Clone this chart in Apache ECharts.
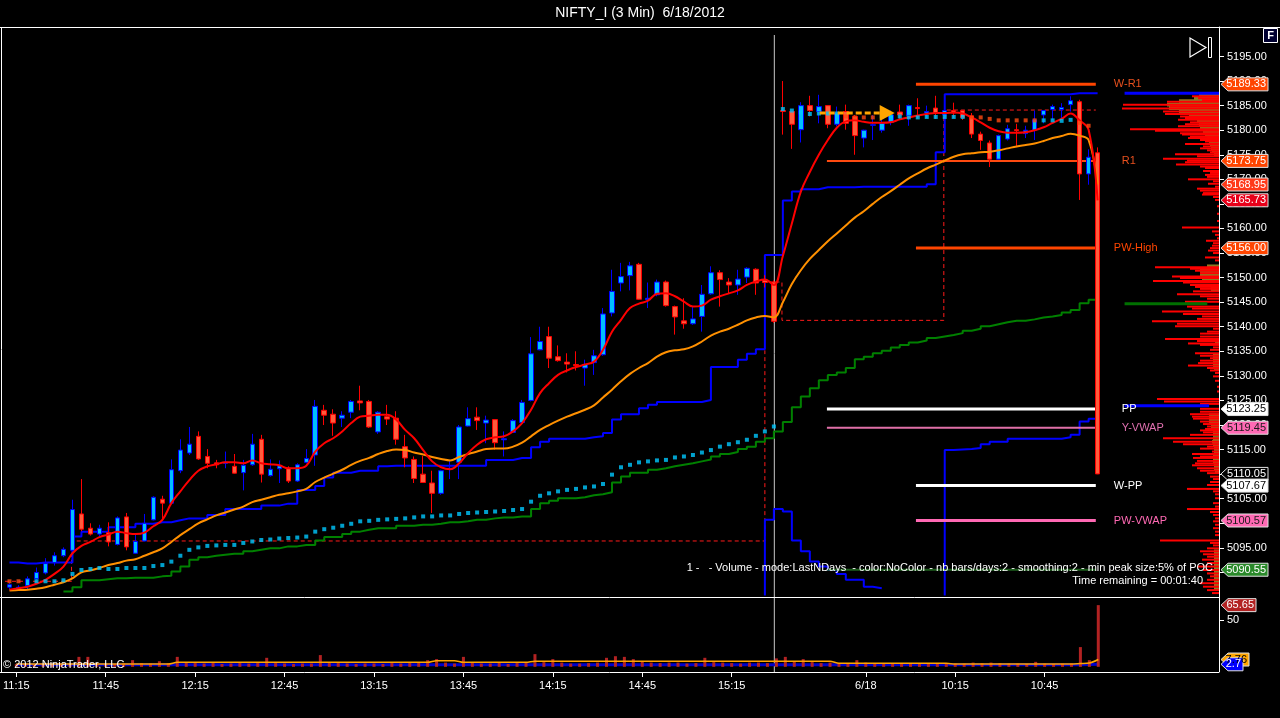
<!DOCTYPE html>
<html>
<head>
<meta charset="utf-8">
<title>NIFTY_I (3 Min) 6/18/2012</title>
<script src="https://cdn.jsdelivr.net/npm/echarts@6/dist/echarts.min.js"></script>
<style>
  html, body { margin: 0; padding: 0; background: #000; }
  #chart { width: 1280px; height: 718px; }
</style>
</head>
<body>
<div id="chart"></div>
<script>
// ---- time axis ----
const sessions = [{ start: '11:15', bars: 86 }, { start: '9:18', bars: 49 }];
const lastBar = 121;
const timeTicks = ['11:15', '11:45', '12:15', '12:45', '13:15', '13:45', '14:15', '14:45', '15:15', '9:45', '10:15', '10:45'];
const dateLabels = { '9:45': '6/18' };
const priceTicks = [5090, 5095, 5100, 5105, 5110, 5115, 5120, 5125, 5130, 5135, 5140, 5145,
  5150, 5155, 5160, 5165, 5170, 5175, 5180, 5185, 5190, 5195];
const volTicks = [50];

// ---- price bars ----
const opens = [
  5087.0, 5086.6, 5087.3, 5088.7, 5089.9, 5092.0, 5093.4, 5094.5, 5101.9, 5099.0,
  5097.8, 5098.1, 5095.7, 5101.3, 5093.9, 5096.4, 5100.7, 5104.9, 5104.1, 5110.7,
  5114.3, 5117.7, 5113.6, 5112.3, 5112.2, 5111.6, 5110.3, 5111.9, 5117.1, 5109.7,
  5111.1, 5111.2, 5108.6, 5112.4, 5113.9, 5123.0, 5122.2, 5121.4, 5122.6, 5124.9,
  5124.8, 5118.6, 5121.7, 5121.4, 5115.6, 5113.0, 5110.0, 5108.2, 5106.1, 5111.0,
  5112.4, 5119.8, 5121.6, 5120.4, 5121.1, 5117.0, 5118.5, 5120.5, 5125.0, 5135.3,
  5138.0, 5133.9, 5132.8, 5132.3, 5131.6, 5132.7, 5134.3, 5142.8, 5148.9, 5150.4,
  5152.7, 5145.5, 5146.5, 5149.1, 5144.1, 5141.2, 5140.6, 5142.1, 5146.7, 5151.0,
  5149.1, 5148.5, 5150.1, 5151.7, 5149.5, 5149.1, 5184.0, 5183.8, 5180.1, 5185.0,
  5183.8, 5185.0, 5181.2, 5183.8, 5182.8, 5178.4, 5181.0, 5180.0, 5181.6, 5183.7,
  5183.0, 5184.6, 5183.5, 5184.5, 5183.1, 5184.0, 5184.0, 5182.9, 5179.2, 5177.4,
  5174.1, 5178.2, 5180.1, 5179.3, 5180.0, 5183.1, 5184.2, 5184.2, 5185.2, 5185.8,
  5171.1, 5175.4
];
const closes = [
  5087.5, 5087.0, 5088.7, 5090.0, 5091.8, 5093.4, 5094.7, 5102.8, 5098.8, 5097.8,
  5099.0, 5096.2, 5101.1, 5095.2, 5096.3, 5100.0, 5105.3, 5104.1, 5110.9, 5114.9,
  5116.1, 5113.1, 5112.2, 5111.9, 5112.4, 5110.2, 5111.8, 5116.1, 5110.0, 5111.0,
  5111.7, 5108.6, 5111.9, 5113.2, 5123.8, 5122.0, 5120.4, 5122.0, 5124.8, 5124.5,
  5119.6, 5122.6, 5121.2, 5117.1, 5113.3, 5109.1, 5108.3, 5106.1, 5110.7, 5111.2,
  5119.6, 5121.3, 5120.9, 5121.0, 5116.4, 5117.2, 5120.9, 5124.6, 5134.5, 5137.0,
  5133.6, 5133.1, 5132.4, 5132.1, 5132.3, 5134.1, 5142.6, 5147.2, 5150.2, 5152.4,
  5145.6, 5145.8, 5149.1, 5144.3, 5142.0, 5140.6, 5141.6, 5146.6, 5151.0, 5149.6,
  5148.5, 5149.7, 5151.9, 5148.9, 5149.0, 5141.1, 5183.8, 5181.2, 5185.0, 5184.0,
  5184.8, 5181.2, 5183.5, 5181.4, 5178.9, 5180.0, 5181.1, 5181.4, 5183.1, 5183.1,
  5185.0, 5184.4, 5183.8, 5183.5, 5184.0, 5183.5, 5182.6, 5179.2, 5177.9, 5174.1,
  5178.9, 5180.3, 5179.9, 5180.0, 5182.1, 5184.0, 5184.8, 5184.6, 5186.0, 5171.1,
  5174.5, 5110.05
];
const lows = [
  5086.5, 5086.3, 5086.4, 5088.4, 5089.6, 5091.4, 5093.1, 5094.1, 5098.4, 5097.5,
  5097.3, 5095.3, 5095.5, 5094.5, 5093.8, 5096.3, 5100.6, 5100.8, 5104.0, 5110.2,
  5113.9, 5112.9, 5111.2, 5111.2, 5111.2, 5110.1, 5106.7, 5111.7, 5108.3, 5109.5,
  5108.2, 5108.2, 5108.4, 5112.2, 5111.7, 5120.0, 5117.8, 5119.6, 5121.4, 5123.0,
  5119.4, 5118.2, 5120.0, 5116.0, 5111.4, 5108.2, 5108.2, 5102.1, 5105.8, 5109.0,
  5109.0, 5119.7, 5119.0, 5116.3, 5115.0, 5113.6, 5118.4, 5120.4, 5124.8, 5135.2,
  5131.6, 5132.9, 5130.7, 5131.1, 5128.0, 5130.2, 5134.1, 5142.1, 5147.2, 5147.4,
  5145.5, 5143.8, 5146.2, 5144.1, 5138.4, 5139.6, 5140.4, 5139.0, 5146.5, 5144.1,
  5146.8, 5146.5, 5148.9, 5146.5, 5148.0, 5140.8, 5179.1, 5176.2, 5177.5, 5182.8,
  5181.4, 5180.4, 5180.8, 5180.1, 5175.0, 5176.5, 5178.0, 5179.5, 5181.0, 5182.1,
  5180.9, 5182.4, 5182.5, 5182.3, 5182.5, 5182.5, 5182.1, 5178.4, 5176.0, 5172.5,
  5174.0, 5177.9, 5176.8, 5178.4, 5178.0, 5181.4, 5182.1, 5182.1, 5183.8, 5165.8,
  5168.9, 5110.0
];
const highs = [
  5088.0, 5087.4, 5089.2, 5091.0, 5092.9, 5094.1, 5095.1, 5104.8, 5109.0, 5100.0,
  5099.7, 5100.2, 5101.4, 5102.1, 5097.7, 5101.9, 5105.5, 5105.6, 5113.0, 5117.1,
  5119.6, 5118.7, 5115.1, 5112.9, 5114.6, 5114.1, 5112.9, 5118.2, 5118.0, 5113.0,
  5112.8, 5111.6, 5112.2, 5115.1, 5125.1, 5124.1, 5123.2, 5122.8, 5125.1, 5128.0,
  5125.1, 5122.8, 5124.1, 5122.8, 5118.0, 5113.6, 5113.7, 5110.7, 5110.9, 5112.9,
  5120.0, 5123.6, 5123.6, 5121.9, 5121.2, 5118.7, 5121.2, 5125.1, 5137.9, 5140.0,
  5140.0, 5136.2, 5134.6, 5135.0, 5133.3, 5135.3, 5143.8, 5151.6, 5153.0, 5153.2,
  5153.0, 5149.0, 5149.6, 5149.4, 5144.3, 5145.8, 5144.0, 5148.5, 5152.3, 5151.5,
  5149.9, 5151.6, 5152.1, 5151.9, 5150.5, 5149.4, 5190.0, 5183.8, 5185.7, 5187.0,
  5187.2, 5185.0, 5184.8, 5185.2, 5183.1, 5180.1, 5183.1, 5183.1, 5184.0, 5185.2,
  5185.2, 5186.5, 5185.0, 5187.0, 5184.5, 5185.6, 5184.1, 5183.5, 5179.7, 5177.9,
  5179.1, 5181.1, 5181.3, 5180.9, 5184.0, 5184.1, 5185.2, 5185.5, 5186.9, 5186.2,
  5176.1, 5176.5
];

// ---- indicators ----
const fastAvg = [
  5086.5, 5086.8, 5087.1, 5087.7, 5088.5, 5089.7, 5091.2, 5093.9, 5095.4, 5096.2,
  5097.2, 5097.7, 5098.3, 5098.0, 5097.8, 5098.1, 5099.4, 5100.7, 5104.1, 5106.5,
  5108.8, 5110.7, 5111.6, 5112.0, 5112.4, 5112.4, 5112.2, 5112.8, 5112.2, 5112.0,
  5111.8, 5111.2, 5111.2, 5111.7, 5114.6, 5116.3, 5117.3, 5118.7, 5120.4, 5121.7,
  5121.9, 5122.1, 5122.1, 5121.1, 5119.0, 5117.3, 5114.9, 5112.6, 5111.4, 5111.0,
  5112.2, 5114.3, 5116.0, 5117.1, 5117.5, 5117.7, 5118.7, 5120.4, 5123.1, 5126.5,
  5128.5, 5130.2, 5131.1, 5131.8, 5132.3, 5132.9, 5135.3, 5139.0, 5141.4, 5143.8,
  5144.7, 5145.3, 5146.7, 5146.8, 5146.2, 5145.1, 5144.1, 5144.3, 5145.5, 5146.2,
  5146.8, 5147.4, 5148.5, 5149.2, 5149.6, 5148.5, 5154.4, 5161.0, 5167.5, 5171.5,
  5175.0, 5178.0, 5180.5, 5181.8, 5182.0, 5181.7, 5181.5, 5181.5, 5181.6, 5182.2,
  5182.6, 5183.0, 5183.3, 5183.5, 5183.5, 5183.6, 5183.4, 5182.6, 5181.6, 5180.5,
  5179.8, 5179.5, 5179.5, 5179.6, 5180.0, 5180.6, 5181.5, 5182.3, 5183.4, 5182.0,
  5180.1, 5165.73
];
const slowAvg = [
  5086.3, 5086.4, 5086.5, 5086.7, 5087.0, 5087.5, 5088.0, 5088.8, 5090.0, 5090.4,
  5090.9, 5091.5, 5091.9, 5092.4, 5092.7, 5093.4, 5094.1, 5094.9, 5096.2, 5097.6,
  5098.8, 5100.0, 5100.8, 5101.6, 5102.2, 5102.8, 5103.4, 5104.3, 5104.8, 5105.3,
  5105.8, 5106.1, 5106.5, 5107.0, 5108.4, 5109.3, 5110.1, 5110.9, 5111.9, 5112.7,
  5113.3, 5114.1, 5114.7, 5115.0, 5114.9, 5114.4, 5114.0, 5113.5, 5113.1, 5112.8,
  5113.5, 5114.1, 5114.6, 5115.1, 5115.2, 5115.2, 5115.6, 5116.4, 5117.7, 5119.0,
  5120.0, 5120.9, 5121.7, 5122.4, 5123.1, 5124.0, 5125.6, 5127.2, 5128.9, 5130.4,
  5131.6, 5132.6, 5133.9, 5134.8, 5135.2, 5135.4, 5136.0, 5137.0, 5138.2, 5139.0,
  5139.6, 5140.4, 5141.3, 5141.9, 5142.2, 5141.9, 5145.0, 5148.7, 5151.5, 5153.8,
  5155.6, 5157.4, 5159.0, 5160.6, 5162.2, 5163.5, 5165.0, 5166.4, 5167.6, 5168.9,
  5170.2, 5171.2, 5172.2, 5173.0, 5173.8, 5174.6, 5175.1, 5175.3, 5175.5, 5175.6,
  5175.9, 5176.3, 5176.7, 5177.0, 5177.3, 5177.8, 5178.4, 5178.8, 5179.3, 5178.9,
  5178.0, 5168.95
];
const blueStep = [
  5092.0, 5091.8, 5091.8, 5092.0, 5092.0, 5092.0, 5092.0, 5097.3, 5098.3, 5098.3,
  5098.3, 5099.2, 5099.2, 5099.2, 5099.9, 5099.9, 5100.2, 5100.2, 5100.6, 5101.0,
  5101.0, 5101.0, 5101.7, 5101.7, 5102.9, 5102.9, 5102.9, 5102.9, 5103.6, 5103.6,
  5104.0, 5104.0, 5106.8, 5106.8, 5107.6, 5109.3, 5110.3, 5110.3, 5110.7, 5110.7,
  5110.7, 5111.6, 5111.7, 5111.7, 5111.7, 5111.7, 5111.7, 5111.7, 5111.7, 5111.7,
  5111.7, 5111.7, 5111.7, 5112.9, 5112.9, 5112.9, 5113.3, 5113.3, 5115.5, 5116.6,
  5117.2, 5117.2, 5117.2, 5117.2, 5117.5, 5117.7, 5118.4, 5121.1, 5122.2, 5122.2,
  5123.4, 5124.1, 5124.7, 5124.7, 5124.7, 5124.7, 5124.7, 5125.1, 5131.8, 5131.8,
  5131.8, 5133.3, 5134.5, 5135.4, 5154.6, 5154.6, 5165.7, 5167.5, 5168.0, 5168.0,
  5168.4, 5168.4, 5168.4, 5168.4, 5168.5, 5168.5, 5168.5, 5168.5, 5168.5, 5168.5,
  5168.5, 5168.5, 5169.0, 5175.5, 5187.3, 5187.3, 5187.3, 5187.3, 5187.3, 5187.3,
  5187.3, 5187.3, 5187.3, 5187.3, 5187.3, 5187.3, 5187.3, 5187.3, 5187.5, 5187.5,
  5187.5, 5187.5
];
const greenStep = [
  null, null, null, null, null, null, 5086.1, 5087.0, 5088.4, 5088.4,
  5088.6, 5088.8, 5088.8, 5088.9, 5088.9, 5088.9, 5089.2, 5089.3, 5090.2, 5091.2,
  5092.6, 5093.1, 5093.4, 5093.6, 5093.8, 5093.8, 5094.3, 5094.6, 5094.9, 5094.9,
  5095.3, 5095.3, 5095.6, 5095.6, 5096.5, 5097.2, 5097.2, 5097.8, 5098.3, 5098.7,
  5099.0, 5099.0, 5099.0, 5099.5, 5099.5, 5099.7, 5099.7, 5099.9, 5100.2, 5100.2,
  5100.4, 5100.7, 5100.7, 5101.0, 5101.2, 5101.2, 5101.4, 5101.4, 5102.9, 5104.1,
  5104.6, 5105.1, 5105.1, 5105.3, 5105.7, 5105.9, 5106.3, 5108.3, 5109.5, 5110.3,
  5110.3, 5110.9, 5111.2, 5111.6, 5111.9, 5112.2, 5112.6, 5113.0, 5113.6, 5114.1,
  5114.5, 5115.1, 5115.6, 5116.6, 5117.3, 5118.7, 5120.6, 5123.6, 5125.8, 5127.5,
  5129.1, 5130.2, 5130.7, 5131.6, 5133.4, 5133.9, 5134.6, 5135.1, 5135.8, 5136.3,
  5136.8, 5137.2, 5137.7, 5138.0, 5138.3, 5138.7, 5139.2, 5139.6, 5140.1, 5140.5,
  5140.9, 5141.2, 5141.2, 5141.5, 5141.9, 5142.1, 5142.4, 5142.9, 5143.4, 5144.8,
  5145.5, 5145.5
];
const cyanDots = [
  null, null, null, 5088.2, 5088.2, 5088.2, 5088.4, 5089.7, 5090.5, 5090.7,
  5090.9, 5090.7, 5090.7, 5090.9, 5090.9, 5090.9, 5091.3, 5091.5, 5092.2, 5093.4,
  5094.6, 5095.1, 5095.4, 5095.5, 5095.6, 5095.6, 5096.0, 5096.3, 5096.6, 5096.7,
  5096.9, 5097.0, 5097.1, 5097.3, 5098.3, 5098.8, 5099.1, 5099.5, 5099.9, 5100.4,
  5100.5, 5100.7, 5100.8, 5100.9, 5101.0, 5101.2, 5101.4, 5101.4, 5101.6, 5101.6,
  5101.9, 5102.1, 5102.2, 5102.3, 5102.4, 5102.5, 5102.7, 5102.9, 5104.4, 5105.6,
  5106.1, 5106.5, 5106.8, 5107.0, 5107.3, 5107.5, 5108.0, 5109.9, 5111.4, 5111.9,
  5112.4, 5112.6, 5112.8, 5112.9, 5113.4, 5113.6, 5113.9, 5114.4, 5114.9, 5115.6,
  5116.1, 5116.5, 5117.0, 5117.8, 5118.7, 5119.7, 5184.3, 5184.0, 5183.6, 5183.3,
  5183.4, 5183.4, 5183.4, null, null, null, null, 5182.8, 5182.8, 5182.8,
  5182.6, 5182.6, 5182.7, 5182.7, 5182.7, 5182.7, 5182.7, null, null, null,
  null, null, null, null, null, 5182.0, 5182.0, 5181.9, 5182.1, null,
  null, null
];
const orangeDots = [
  [0, 5088.2], [1, 5088.2], [93, 5182.8], [94, 5182.6], [95, 5182.6], [96, 5182.6],
  [107, 5182.6], [108, 5182.6], [109, 5182.3], [110, 5182.0], [111, 5182.0], [112, 5182.0],
  [113, 5182.0], [114, 5182.0], [119, 5181.5], [120, 5180.9]
];
const blueLowA = [
  [84, 5085.3], [84, 5100.7], [85, 5102.9], [86, 5102.4], [87, 5096.5], [88, 5094.3],
  [89, 5092.2], [90, 5091.2], [91, 5090.5], [92, 5089.7], [93, 5088.5], [95, 5087.1],
  [96, 5086.8], [97, 5086.8]
];
const blueLowB = [
  [104, 5085.3], [104, 5114.9], [105, 5115.1], [107, 5115.3], [108, 5116.1], [109, 5116.6],
  [111, 5117.2], [117, 5117.5], [118, 5118.0], [119, 5120.7], [120, 5121.3], [120.8, 5121.3]
];
const rangeLineA = [[-0.5, 5088.2], [6.9, 5088.2], [6.9, 5096.4], [84.0, 5096.4], [84.0, 5135.2]];
const rangeLineB = [[84.4, 5149.1], [85.9, 5149.1], [85.9, 5141.3], [103.9, 5141.3], [103.9, 5184.1], [120.8, 5184.1]];
const arrowLine = [[90.1, 5183.5], [97.6, 5183.5]];
const sessionBreak = 85.05;

// ---- pivot levels ----
const levelNames = ['W-R1', 'R1', 'PW-High', 'PP', 'Y-VWAP', 'W-PP', 'PW-VWAP'];
const levelValues = [5189.33, 5173.75, 5156.00, 5123.25, 5119.45, 5107.67, 5100.57];
const levelFrom = [100.8, 90.9, 100.8, 90.9, 90.9, 100.8, 100.8];
const levelTo = [120.8, 120.8, 120.8, 120.8, 120.8, 120.8, 120.8];
const volAreaLine = [[90.9, 5090.55], [120.8, 5090.55]];

// ---- volume profile ----
const profPrice = [
  5186.9, 5186.5, 5186.1, 5185.8, 5185.2, 5184.8, 5184.4, 5183.8, 5183.3, 5182.8,
  5182.5, 5182.1, 5181.6, 5181.2, 5180.8, 5180.2, 5179.9, 5179.4, 5179.1, 5178.7,
  5178.4, 5178.0, 5177.7, 5177.2, 5176.7, 5176.3, 5175.9, 5175.5, 5175.1, 5174.7,
  5174.2, 5173.8, 5173.5, 5173.0, 5172.6, 5172.3, 5171.7, 5171.3, 5170.9, 5170.5,
  5170.0, 5169.6, 5169.1, 5168.5, 5168.1, 5167.7, 5167.2, 5166.9, 5166.4, 5165.8,
  5164.5, 5163.0, 5161.5, 5160.2, 5159.4, 5158.7, 5158.0, 5157.5, 5157.0, 5156.5,
  5156.0, 5155.5, 5155.0, 5154.1, 5153.5, 5152.1, 5151.8, 5151.4, 5150.9, 5150.2,
  5149.9, 5149.3, 5149.0, 5148.5, 5148.1, 5147.7, 5147.2, 5146.6, 5146.2, 5145.7,
  5145.1, 5144.1, 5143.7, 5143.1, 5142.6, 5142.1, 5141.6, 5141.1, 5140.6, 5140.1,
  5139.6, 5139.0, 5138.6, 5138.0, 5137.5, 5137.1, 5136.6, 5136.3, 5135.8, 5135.3,
  5134.6, 5134.1, 5133.6, 5133.1, 5132.6, 5132.1, 5131.6, 5131.1, 5130.6, 5129.9,
  5129.0, 5127.8, 5126.8, 5125.3, 5124.8, 5124.3, 5123.3, 5122.7, 5122.2, 5121.7,
  5121.3, 5120.7, 5120.2, 5119.7, 5119.2, 5118.9, 5118.5, 5118.0, 5117.3, 5116.6,
  5116.1, 5115.6, 5115.2, 5114.6, 5114.1, 5113.6, 5113.3, 5112.7, 5112.2, 5111.8,
  5111.2, 5110.7, 5110.2, 5109.5, 5109.0, 5108.4, 5107.8, 5107.0, 5106.5, 5105.9,
  5105.1, 5104.1, 5103.4, 5102.9, 5102.3, 5101.7, 5101.0, 5100.4, 5099.7, 5099.0,
  5098.3, 5097.6, 5096.5, 5096.0, 5095.5, 5094.9, 5094.3, 5093.7, 5093.2, 5092.6,
  5091.9, 5091.2, 5090.5, 5089.8, 5089.2, 5088.5, 5087.8, 5087.1, 5086.4, 5085.8
];
const profVol = [
  27, 21, 17, 52, 96, 49, 97, 56, 54, 39,
  34, 41, 29, 34, 41, 89, 64, 39, 37, 29,
  31, 19, 14, 34, 16, 19, 12, 9, 44, 22,
  56, 32, 34, 43, 19, 14, 16, 9, 14, 12,
  31, 6, 11, 4, 22, 19, 16, 17, 6, 4,
  2, 2, 2, 37, 7, 4, 2, 13, 6, 7,
  9, 11, 6, 14, 4, 64, 29, 24, 19, 47,
  39, 66, 36, 29, 24, 19, 26, 42, 19, 12,
  34, 32, 27, 57, 36, 17, 22, 67, 42, 44,
  6, 12, 19, 19, 54, 22, 31, 19, 6, 9,
  24, 19, 9, 19, 21, 31, 12, 9, 4, 6,
  4, 2, 2, 62, 55, 19, 19, 19, 29, 27,
  26, 19, 16, 12, 14, 19, 16, 29, 56, 46,
  36, 12, 19, 7, 27, 19, 26, 22, 24, 27,
  22, 19, 12, 9, 6, 9, 12, 32, 6, 4,
  4, 6, 4, 32, 9, 6, 4, 6, 4, 6,
  4, 4, 59, 9, 6, 12, 19, 16, 12, 17,
  12, 21, 16, 12, 9, 12, 19, 16, 12, 7
];
const valueAreaPrice = [
  5187.2, 5186.5, 5185.9, 5185.2, 5184.5, 5183.8, 5183.1, 5182.5, 5181.8, 5181.1,
  5180.4, 5179.7, 5179.1, 5178.4, 5177.7, 5177.0, 5176.3, 5175.7, 5175.0,
  5152.3, 5151.6, 5150.9, 5150.2, 5149.5, 5148.2, 5147.5, 5137.3, 5136.8,
  5134.3, 5133.6, 5132.9, 5132.2, 5131.6, 5122.0, 5121.3, 5120.6, 5119.9, 5119.3,
  5118.7, 5118.0, 5117.3, 5116.6, 5115.9, 5115.2, 5114.5, 5113.8, 5113.1, 5112.4,
  5111.8, 5111.1, 5110.4, 5094.3, 5093.6, 5092.9, 5092.2, 5091.5, 5090.8, 5090.1,
  5089.4, 5088.7, 5088.0, 5087.3, 5086.6
];
const valueAreaVol = [
  20, 25, 40, 52, 50, 40, 30, 22, 22, 20,
  19, 16, 14, 12, 10, 9, 8, 7, 5,
  12, 19, 19, 19, 17, 8, 8, 4, 4,
  6, 6, 6, 6, 5, 10, 10, 10, 8, 8,
  6, 6, 6, 7, 6, 5, 5, 6, 6, 6,
  5, 5, 4, 5, 5, 5, 5, 5, 5, 5,
  5, 5, 5, 5, 5
];
const pocHigh = [[124.0, 5187.5], [134.5, 5187.5]];
const pocLow = [[124.0, 5123.9], [133.4, 5123.9]];
const pocMid = [[124.0, 5144.7], [133.2, 5144.7]];

// ---- volume panel ----
const volume = [
  3.0, 3.5, 3.0, 3.5, 3.0, 3.0, 4.0, 10.6, 10.6, 4.0,
  3.5, 3.0, 4.0, 7.1, 4.0, 3.5, 6.0, 4.0, 10.6, 4.5,
  4.0, 3.5, 4.0, 3.0, 3.5, 4.0, 3.5, 4.0, 9.6, 4.0,
  3.5, 3.0, 3.5, 3.5, 12.5, 4.0, 4.0, 3.5, 3.0, 3.5,
  3.5, 3.0, 4.0, 3.5, 4.0, 4.5, 7.1, 8.2, 4.5, 3.5,
  10.6, 4.5, 3.5, 3.5, 4.5, 3.0, 4.0, 4.5, 13.5, 5.0,
  8.2, 4.5, 3.5, 3.5, 4.0, 4.5, 9.6, 11.3, 10.6, 8.2,
  5.5, 4.5, 4.0, 4.5, 4.5, 3.5, 4.0, 9.6, 5.0, 4.5,
  4.0, 3.5, 4.5, 4.5, 4.0, 9.0, 10.6, 5.5, 8.2, 5.0,
  4.0, 4.5, 4.0, 3.5, 7.1, 4.5, 4.0, 3.5, 3.5, 4.0,
  3.5, 4.0, 3.5, 3.5, 4.0, 3.5, 3.5, 4.5, 4.0, 4.5,
  4.0, 3.5, 3.5, 3.0, 5.3, 3.5, 3.0, 3.5, 3.5, 21.0,
  7.1, 65.65
];
const volAvg = [
  3.0, 3.0, 3.0, 3.0, 3.0, 3.0, 3.0, 3.0, 3.0, 3.0,
  3.0, 3.0, 3.0, 3.0, 3.0, 3.0, 3.0, 3.0, 4.8, 4.8,
  4.8, 4.8, 4.8, 4.8, 4.8, 4.8, 4.8, 4.8, 4.8, 4.8,
  4.8, 4.8, 4.8, 4.8, 4.8, 4.8, 4.8, 4.8, 4.8, 4.8,
  4.8, 4.8, 4.8, 4.8, 4.8, 4.8, 4.8, 6.6, 6.6, 6.6,
  4.8, 4.8, 4.8, 4.8, 4.8, 4.8, 4.8, 4.8, 5.9, 5.9,
  5.9, 5.9, 5.9, 5.9, 5.9, 5.9, 5.9, 5.9, 5.9, 5.9,
  5.9, 5.9, 5.9, 5.9, 5.9, 5.9, 5.9, 5.9, 5.9, 5.9,
  5.9, 5.9, 5.9, 5.9, 5.9, 5.9, 5.9, 5.9, 5.9, 5.9,
  5.9, 5.9, 3.9, 3.9, 3.9, 3.9, 3.9, 3.9, 3.9, 3.9,
  3.9, 3.9, 3.9, 3.9, 3.9, 2.9, 2.9, 2.9, 2.9, 2.9,
  2.9, 2.9, 2.9, 2.9, 2.9, 2.9, 2.9, 2.9, 2.9, 3.5,
  4.0, 7.76
];
const volBase = [
  2.3, 2.3, 2.3, 2.3, 2.3, 2.3, 2.3, 2.3, 2.3, 2.3,
  2.3, 2.3, 2.3, 2.3, 2.3, 2.3, 2.3, 2.3, 2.3, 2.3,
  2.3, 2.3, 2.3, 2.3, 2.3, 2.3, 2.3, 2.3, 2.3, 2.3,
  2.3, 2.3, 2.3, 2.3, 2.3, 2.3, 2.3, 2.3, 2.3, 2.3,
  2.3, 2.3, 2.3, 2.3, 2.3, 2.3, 2.3, 2.3, 2.3, 2.3,
  2.3, 2.3, 2.3, 2.3, 2.3, 2.3, 2.3, 2.3, 2.3, 2.3,
  2.3, 2.3, 2.3, 2.3, 2.3, 2.3, 2.3, 2.3, 2.3, 2.3,
  2.3, 2.3, 2.3, 2.3, 2.3, 2.3, 2.3, 2.3, 2.3, 2.3,
  2.3, 2.3, 2.3, 2.3, 2.3, 2.3, 2.1, 2.1, 2.1, 2.1,
  2.1, 2.1, 2.1, 2.1, 2.1, 2.1, 2.1, 2.1, 2.1, 2.1,
  2.1, 2.1, 2.1, 2.1, 2.1, 2.1, 2.1, 2.1, 2.1, 2.1,
  2.1, 2.1, 2.1, 2.1, 2.1, 2.1, 2.1, 2.1, 2.1, 2.3,
  2.5, 2.7
];

// ---- right-hand price flags ----
const priceFlagValues = [5189.33, 5173.75, 5168.95, 5165.73, 5156.00, 5123.25, 5119.45, 5110.05, 5107.67, 5100.57, 5090.55];
const volFlagValues = [65.65, 7.76, 2.7];

function buildTimes(list) {
  const out = [];
  list.forEach(function (s) {
    const hm = s.start.split(':').map(Number);
    for (let k = 0; k < s.bars; k++) {
      const t = hm[0] * 60 + hm[1] + k * 3;
      out.push(Math.floor(t / 60) + ':' + String(t % 60).padStart(2, '0'));
    }
  });
  return out;
}
const categories = buildTimes(sessions);
const N = categories.length;

const FONT = '"Liberation Sans", Arial, sans-serif';
const showTick = function (index, value) {
  return index <= lastBar && timeTicks.indexOf(value) >= 0;
};

const chart = echarts.init(document.getElementById('chart'));

function pairLine(data, color, width, extra) {
  return Object.assign({
    type: 'line', xAxisIndex: 1, yAxisIndex: 0, data: data, symbol: 'none',
    lineStyle: { color: color, width: width }, silent: true
  }, extra || {});
}

const levelStyle = {
  'W-R1': { color: '#ff4500', width: 3, label: '#e8501e', dist: 18 },
  'R1': { color: '#ff4a10', width: 2, label: '#e8501e', dist: 26 },
  'PW-High': { color: '#ff4500', width: 3, label: '#ff4500', dist: 18 },
  'PP': { color: '#ffffff', width: 3, label: '#ffffff', dist: 26 },
  'Y-VWAP': { color: '#e070a8', width: 2, label: '#e070b0', dist: 26 },
  'W-PP': { color: '#ffffff', width: 3, label: '#ffffff', dist: 18 },
  'PW-VWAP': { color: '#ff69b4', width: 3, label: '#ff69b4', dist: 18 }
};

function profileRect(h, color) {
  return function (params, api) {
    const a = api.coord([api.value(0), api.value(1)]);
    const b = api.coord([0, api.value(1)]);
    const hh = typeof h === 'number' ? h : api.size([0, h.pts])[1];
    return {
      type: 'rect',
      shape: { x: a[0], y: a[1] - hh / 2, width: b[0] - a[0], height: hh },
      style: { fill: color }
    };
  };
}

const series = [];

// profile (drawn first, under everything)
series.push({
  type: 'custom', xAxisIndex: 3, yAxisIndex: 2, z: 1, silent: true,
  data: valueAreaPrice.map(function (p, k) { return [valueAreaVol[k], p]; }),
  renderItem: profileRect({ pts: 0.75 }, '#8c7a22')
});
series.push({
  type: 'custom', xAxisIndex: 3, yAxisIndex: 2, z: 1, silent: true,
  data: profPrice.map(function (p, k) { return [profVol[k], p]; }),
  renderItem: profileRect(2, '#ff0000')
});

// range lines
series.push(pairLine(rangeLineA, '#ff1a1a', 1, { lineStyle: { color: '#ff1a1a', width: 1, type: [4, 3] } }));
series.push(pairLine(rangeLineB, '#ff1a1a', 1, { lineStyle: { color: '#ff1a1a', width: 1, type: [4, 3] } }));

// step bands
series.push({
  type: 'line', xAxisIndex: 0, yAxisIndex: 0, data: blueStep, step: 'end', symbol: 'none',
  lineStyle: { color: '#0000ff', width: 2 }, silent: true, z: 3
});
series.push(pairLine(blueLowA, '#0000ff', 2, { step: 'end', z: 3 }));
series.push(pairLine(blueLowB, '#0000ff', 2, { step: 'end', z: 3 }));
series.push({
  type: 'line', xAxisIndex: 0, yAxisIndex: 0, data: greenStep, step: 'end', symbol: 'none',
  lineStyle: { color: '#008000', width: 2 }, silent: true, z: 3
});
series.push(pairLine(volAreaLine, '#1d5e1d', 2, { z: 3 }));

// POC lines on the profile
series.push(pairLine(pocHigh, '#0000ff', 3, { z: 4 }));
series.push(pairLine(pocLow, '#0000ff', 3, { z: 4 }));
series.push(pairLine(pocMid, '#007000', 3, { z: 4 }));

// pivot levels
levelNames.forEach(function (name, k) {
  const st = levelStyle[name];
  series.push(pairLine([[levelFrom[k], levelValues[k]], [levelTo[k], levelValues[k]]], st.color, st.width, {
    name: name, z: 4,
    endLabel: {
      show: true, formatter: name, color: st.label, fontSize: 11, fontFamily: FONT,
      distance: st.dist
    }
  }));
});

// candles
series.push({
  type: 'candlestick', xAxisIndex: 0, yAxisIndex: 0, barWidth: 5, z: 5, silent: true,
  data: opens.map(function (o, k) { return [o, closes[k], lows[k], highs[k]]; }),
  itemStyle: {
    color: '#00bfff', color0: '#ff5c3c',
    borderColor: '#0000ff', borderColor0: '#ff0000', borderWidth: 1
  }
});

// moving averages
series.push({
  type: 'line', xAxisIndex: 0, yAxisIndex: 0, data: slowAvg, smooth: 0.4, symbol: 'none',
  lineStyle: { color: '#ff9000', width: 2 }, silent: true, z: 6
});
series.push({
  type: 'line', xAxisIndex: 0, yAxisIndex: 0, data: fastAvg, smooth: 0.4, symbol: 'none',
  lineStyle: { color: '#ff0000', width: 2 }, silent: true, z: 6
});

// dot plots
series.push({
  type: 'scatter', xAxisIndex: 0, yAxisIndex: 0, data: cyanDots, symbol: 'rect', symbolSize: 4,
  itemStyle: { color: '#00c8ff' }, silent: true, z: 7
});
series.push({
  type: 'scatter', xAxisIndex: 1, yAxisIndex: 0, data: orangeDots, symbol: 'rect', symbolSize: 4,
  itemStyle: { color: '#ff4a10' }, silent: true, z: 7
});

// drawn arrow
series.push(pairLine(arrowLine.map(function (p, k) {
  return k === arrowLine.length - 1
    ? { value: p, symbol: 'triangle', symbolSize: [16, 15], symbolRotate: -90 }
    : { value: p, symbol: 'none' };
}), '#ffa500', 3, {
  showSymbol: true, z: 8,
  lineStyle: { color: '#ffa500', width: 3, type: [6, 3] },
  itemStyle: { color: '#ffa500' }
}));

// volume panel
series.push({
  type: 'line', xAxisIndex: 2, yAxisIndex: 1, data: volBase, symbol: 'none',
  lineStyle: { color: '#0000cd', width: 3 }, silent: true, z: 2
});
series.push({
  type: 'bar', xAxisIndex: 2, yAxisIndex: 1, data: volume, barWidth: 3,
  itemStyle: { color: '#b22222' }, silent: true, z: 3
});
series.push({
  type: 'line', xAxisIndex: 2, yAxisIndex: 1, data: volAvg, smooth: 0.3, symbol: 'none',
  lineStyle: { color: '#ffa500', width: 1.5 }, silent: true, z: 4
});

const option = {
  backgroundColor: '#000000',
  animation: false,
  textStyle: { fontFamily: FONT },
  grid: [
    { left: 5, right: 61, top: 27, height: 570 },
    { left: 5, right: 61, top: 597, height: 75 },
    { left: 1119, right: 61, top: 27, height: 570 }
  ],
  xAxis: [
    { type: 'category', gridIndex: 0, data: categories, boundaryGap: true,
      axisLine: { show: false, onZero: false }, axisTick: { show: false }, axisLabel: { show: false } },
    { type: 'value', gridIndex: 0, min: -0.5, max: N - 0.5, show: false,
      axisLine: { show: false, onZero: false } },
    { type: 'category', gridIndex: 1, data: categories, boundaryGap: true, position: 'bottom',
      axisLine: { show: false, onZero: false },
      axisTick: { show: true, interval: showTick, alignWithLabel: true, length: 5,
        lineStyle: { color: '#ffffff' } },
      axisLabel: { interval: showTick, color: '#ffffff', fontSize: 11, margin: 8,
        alignMinLabel: 'center',
        formatter: function (v) { return dateLabels[v] || v; } } },
    { type: 'value', gridIndex: 2, min: 0, max: 100, inverse: true, show: false,
      axisLine: { show: false, onZero: false } }
  ],
  yAxis: [
    { type: 'value', gridIndex: 0, position: 'right', min: 5085, max: 5201,
      splitLine: { show: false },
      axisLine: { show: true, onZero: false, lineStyle: { color: '#ffffff', width: 1 } },
      axisTick: { show: true, length: 5, customValues: priceTicks, lineStyle: { color: '#ffffff' } },
      axisLabel: { customValues: priceTicks, color: '#ffffff', fontSize: 11, margin: 8,
        formatter: function (v) { return v.toFixed(2); } } },
    { type: 'value', gridIndex: 1, position: 'right', min: -5.5, max: 74.3,
      splitLine: { show: false },
      axisLine: { show: true, onZero: false, lineStyle: { color: '#ffffff', width: 1 } },
      axisTick: { show: true, length: 5, customValues: volTicks, lineStyle: { color: '#ffffff' } },
      axisLabel: { customValues: volTicks, color: '#ffffff', fontSize: 11, margin: 8 } },
    { type: 'value', gridIndex: 2, min: 5085, max: 5201, show: false,
      axisLine: { show: false, onZero: false } }
  ],
  series: series
};

chart.setOption(option);

// ---- frame, labels and flags, placed through the axes ----
const priceFlagStyle = [
  ['#ff4500', '#ffffff'], ['#ff4500', '#ffffff'], ['#ff3a1a', '#ffffff'], ['#e8001a', '#ffffff'],
  ['#ff4500', '#ffffff'], ['#ffffff', '#000000'], ['#ff69b4', '#1a1a1a'], ['#000000', '#ffffff'],
  ['#ffffff', '#000000'], ['#ff69b4', '#1a1a1a'], ['#2a8a2a', '#ffffff']
];
const volFlagStyle = [['#b22222', '#ffffff', 28], ['#ffa500', '#000000', 21], ['#0000ff', '#ffffff', 15]];

function flag(axisIndex, value, text, bg, fg, w) {
  const y = chart.convertToPixel({ yAxisIndex: axisIndex }, value);
  return [
    { type: 'polygon', z: 100,
      shape: { points: [[1221, y], [1228, y - 6.5], [1228 + w, y - 6.5], [1228 + w, y + 6.5], [1228, y + 6.5]] },
      style: { fill: bg, stroke: '#e0e0e0', lineWidth: 1 } },
    { type: 'text', z: 101, x: 1228 + w - 2, y: y,
      style: { text: text, fill: fg, font: '11px ' + FONT, textAlign: 'right', textVerticalAlign: 'middle' } }
  ];
}

const xBreak = chart.convertToPixel({ xAxisIndex: 1 }, sessionBreak);
const elements = [
  { type: 'line', z: 50, shape: { x1: 0, y1: 27.5, x2: 1280, y2: 27.5 }, style: { stroke: '#ffffff', lineWidth: 1 } },
  { type: 'line', z: 50, shape: { x1: 1.5, y1: 27, x2: 1.5, y2: 672 }, style: { stroke: '#ffffff', lineWidth: 1 } },
  { type: 'line', z: 50, shape: { x1: 0, y1: 597.5, x2: 1219, y2: 597.5 }, style: { stroke: '#ffffff', lineWidth: 1 } },
  { type: 'line', z: 50, shape: { x1: 0, y1: 672.5, x2: 1219, y2: 672.5 }, style: { stroke: '#ffffff', lineWidth: 1 } },
  { type: 'line', z: 50, shape: { x1: 1219.5, y1: 27, x2: 1219.5, y2: 672 }, style: { stroke: '#ffffff', lineWidth: 1 } },
  { type: 'line', z: 1, shape: { x1: xBreak, y1: 35, x2: xBreak, y2: 672 }, style: { stroke: '#c8c8c8', lineWidth: 1 } },
  { type: 'text', z: 50, x: 640, y: 13,
    style: { text: 'NIFTY_I (3 Min)  6/18/2012', fill: '#ffffff', font: '14px ' + FONT, textAlign: 'center', textVerticalAlign: 'middle' } },
  { type: 'polygon', z: 50, shape: { points: [[1190, 38], [1190, 57], [1206, 47.5]] },
    style: { fill: 'none', stroke: '#ffffff', lineWidth: 1.2 } },
  { type: 'rect', z: 50, shape: { x: 1208.5, y: 37.5, width: 3, height: 20 },
    style: { fill: 'none', stroke: '#ffffff', lineWidth: 1 } },
  { type: 'rect', z: 50, shape: { x: 1263.5, y: 28.5, width: 14, height: 14 },
    style: { fill: '#000030', stroke: '#ffffff', lineWidth: 1 } },
  { type: 'text', z: 51, x: 1270.5, y: 35.5,
    style: { text: 'F', fill: '#ffffff', font: 'bold 11px ' + FONT, textAlign: 'center', textVerticalAlign: 'middle' } },
  { type: 'text', z: 60, x: 1213, y: 568,
    style: { text: '1 -   - Volume - mode:LastNDays  - color:NoColor - nb bars/days:2 - smoothing:2 - min peak size:5% of POC',
      fill: '#ffffff', font: '11px ' + FONT, textAlign: 'right', textVerticalAlign: 'middle' } },
  { type: 'text', z: 60, x: 1203, y: 581,
    style: { text: 'Time remaining = 00:01:40', fill: '#ffffff', font: '11px ' + FONT, textAlign: 'right', textVerticalAlign: 'middle' } },
  { type: 'text', z: 60, x: 3, y: 665,
    style: { text: '\u00a9 2012 NinjaTrader, LLC', fill: '#ffffff', font: '11px ' + FONT, textAlign: 'left', textVerticalAlign: 'middle' } }
];
priceFlagValues.forEach(function (v, k) {
  flag(0, v, v.toFixed(2), priceFlagStyle[k][0], priceFlagStyle[k][1], 40).forEach(function (e) { elements.push(e); });
});
volFlagValues.forEach(function (v, k) {
  flag(1, v, String(v), volFlagStyle[k][0], volFlagStyle[k][1], volFlagStyle[k][2]).forEach(function (e) { elements.push(e); });
});
chart.setOption({ graphic: elements });
</script>
</body>
</html>
